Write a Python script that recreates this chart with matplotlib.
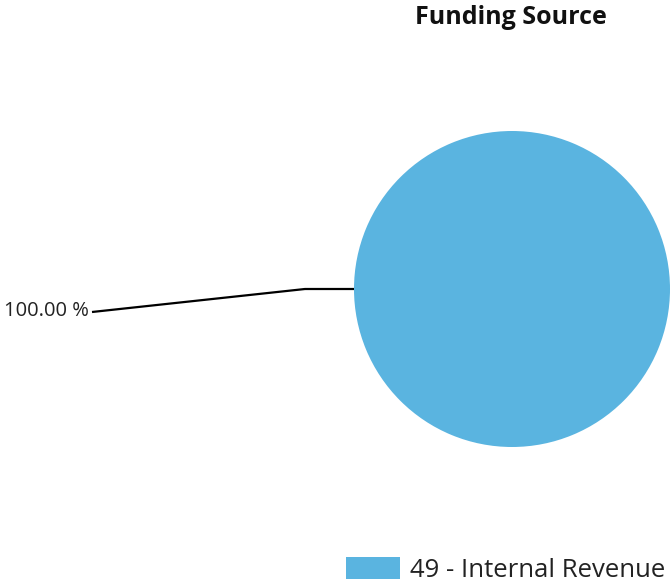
import matplotlib.pyplot as plt
from matplotlib.patches import Patch

plt.rcParams['font.family'] = ['Open Sans', 'DejaVu Sans']

# Funding source shares
sources = ["49 - Internal Revenue"]
amounts = [100.0]
pie_color = "#5AB4E0"

fig = plt.figure(figsize=(6.71, 5.84), dpi=100)
ax = fig.add_axes([0, 0, 1, 1])

cx, cy, r = 512, 289, 158
wedges, _ = ax.pie(amounts, colors=[pie_color], startangle=180,
                   center=(cx, cy), radius=r, frame=True,
                   wedgeprops=dict(linewidth=0))

ax.set_xlim(0, 671)
ax.set_ylim(584, 0)
ax.set_aspect('equal')
ax.axis('off')

# leader line from the left edge of the pie to the percentage label
share = amounts[0] / sum(amounts) * 100
edge_x = cx - r
ax.plot([edge_x, edge_x - 49, 92], [cy, cy, cy + 23], color='black', lw=1.6,
        solid_capstyle='butt')
ax.text(89, cy + 22, f"{share:.2f} %", ha='right', va='center',
        fontsize=14.5, color='#222222')

ax.text(cx - 1, 18, "Funding Source", ha='center', va='center',
        fontsize=18, fontweight='bold', color='#111111')

handles = [Patch(facecolor=pie_color, edgecolor='none')]
leg = fig.legend(handles, sources, loc='lower right',
                 bbox_to_anchor=(669 / 671, -3 / 584), frameon=False,
                 fontsize=18.5, handlelength=2.1, handleheight=0.95,
                 handletextpad=0.4, borderpad=0.15, borderaxespad=0.0)
for t in leg.get_texts():
    t.set_color('#222222')

fig.savefig("out.png", dpi=100)
